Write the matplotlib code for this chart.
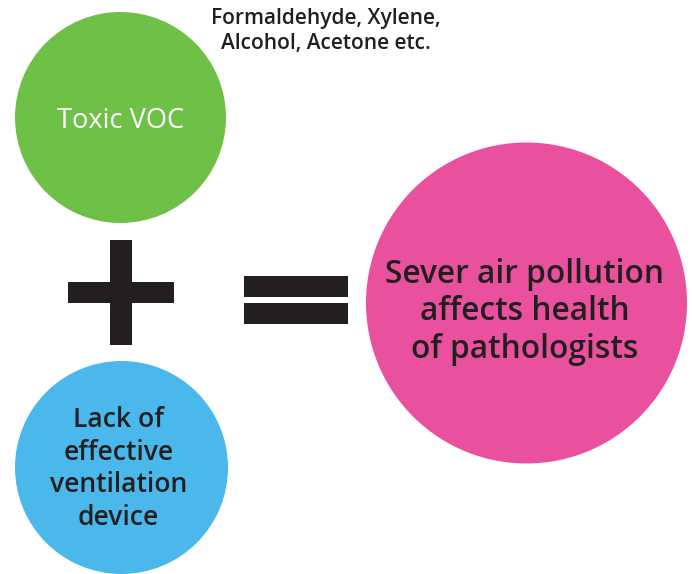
import matplotlib
matplotlib.use("Agg")
import matplotlib.pyplot as plt
from matplotlib.patches import Circle, Rectangle

# Content
circle_labels = ["Toxic VOC", "Lack of\neffective\nventilation\ndevice", "Sever air pollution\naffects health\nof pathologists"]
circle_colors = ["#6EC046", "#4AB8EB", "#E9519E"]
text_colors = ["white", "#231F20", "#231F20"]
note_text = "Formaldehyde, Xylene,\nAlcohol, Acetone etc."
dark = "#231F20"

W, H = 692, 574
fig = plt.figure(figsize=(W / 100, H / 100), dpi=100)
ax = fig.add_axes([0, 0, 1, 1])
ax.set_xlim(0, W)
ax.set_ylim(H, 0)
ax.axis("off")

FONT = ["Open Sans", "DejaVu Sans"]

# circles: (cx, cy, r)
geom = [(120.5, 117.5, 105.5), (121.5, 467.5, 106.5), (526.5, 303, 160.5)]
fsizes = [19.6, 19.1, 22.8]
text_y = [121, 469, 312]
text_dx = [0, -3, -2]
spacing = [1.2, 1.22, 1.19]
weights = ["normal", "semibold", "semibold"]
for (cx, cy, r), col, lab, tc, fs, ty, dx, ls, fw in zip(geom, circle_colors, circle_labels, text_colors,
                                                          fsizes, text_y, text_dx, spacing, weights):
    ax.add_patch(Circle((cx, cy), r, facecolor=col, edgecolor="none"))
    ax.text(cx + dx, ty, lab, ha="center", va="center", color=tc,
            fontsize=fs, family=FONT, fontweight=fw, linespacing=ls)

# note text
ax.text(326, 31, note_text, ha="center", va="center", color=dark, fontsize=15,
        family=FONT, fontweight="semibold", linespacing=1.2)

# plus sign
ax.add_patch(Rectangle((68, 282), 106, 21, facecolor=dark, edgecolor="none"))
ax.add_patch(Rectangle((110, 240), 22, 105, facecolor=dark, edgecolor="none"))
# equals sign
ax.add_patch(Rectangle((244, 276), 104, 21, facecolor=dark, edgecolor="none"))
ax.add_patch(Rectangle((244, 303), 104, 21, facecolor=dark, edgecolor="none"))

fig.savefig("out.png", dpi=100, facecolor="white")
